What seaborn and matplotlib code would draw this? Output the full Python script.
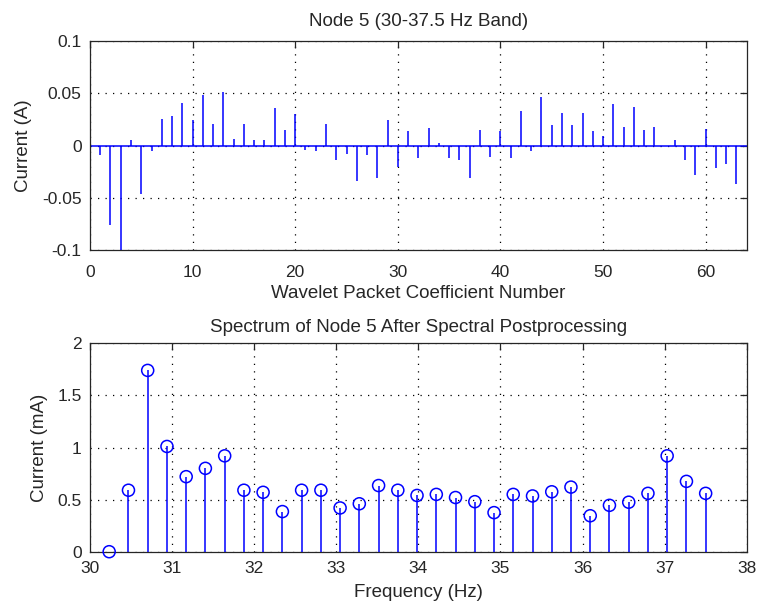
import numpy as np
import matplotlib
matplotlib.use("Agg")
import matplotlib.pyplot as plt
import seaborn as sns

# top panel: wavelet packet coefficients of node 5 (A)
coef_num = list(range(1, 64))
coef_vals = [-0.009, -0.076, -0.100, 0.005, -0.046, -0.005, 0.025, 0.028, 0.041, 0.024,
             0.048, 0.021, 0.051, 0.006, 0.021, 0.005, 0.005, 0.036, 0.015, 0.030,
             -0.004, -0.005, 0.021, -0.014, -0.008, -0.034, -0.009, -0.031, 0.024, -0.021,
             0.014, -0.012, 0.017, 0.002, -0.012, -0.014, -0.031, 0.015, -0.011, 0.014,
             -0.012, 0.033, -0.005, 0.046, 0.020, 0.031, 0.020, 0.031, 0.014, 0.009,
             0.040, 0.018, 0.037, 0.015, 0.018, 0.000, 0.005, -0.014, -0.028, 0.016,
             -0.022, -0.018, -0.037]

# bottom panel: spectrum after postprocessing (mA)
freq_hz = [30.234, 30.469, 30.703, 30.938, 31.172, 31.406, 31.641, 31.875,
           32.109, 32.344, 32.578, 32.813, 33.047, 33.281, 33.516, 33.750,
           33.984, 34.219, 34.453, 34.688, 34.922, 35.156, 35.391, 35.625,
           35.859, 36.094, 36.328, 36.563, 36.797, 37.031, 37.266, 37.500]
spec_ma = [0.00, 0.59, 1.74, 1.01, 0.72, 0.80, 0.92, 0.59,
           0.57, 0.385, 0.59, 0.59, 0.42, 0.46, 0.635, 0.59,
           0.54, 0.55, 0.52, 0.48, 0.375, 0.55, 0.535, 0.575,
           0.62, 0.345, 0.445, 0.475, 0.56, 0.92, 0.675, 0.56]

top_xticks = [0, 10, 20, 30, 40, 50, 60]
top_yticks = [-0.1, -0.05, 0, 0.05, 0.1]
top_yticklabels = ["-0.1", "-0.05", "0", "0.05", "0.1"]
bot_xticks = [30, 31, 32, 33, 34, 35, 36, 37, 38]
bot_yticks = [0, 0.5, 1, 1.5, 2]
bot_yticklabels = ["0", "0.5", "1", "1.5", "2"]

sns.set_theme(style="white")
plt.rcParams["font.family"] = ["Liberation Sans", "DejaVu Sans"]
plt.rcParams["font.size"] = 12.5

STEM = (0, 0, 1)
INK = "#262626"
LABEL_FS = 13.5

fig = plt.figure(figsize=(7.58, 6.06), dpi=100)
ax1 = fig.add_axes([0.1187, 0.5875, 0.8664, 0.3448])
ax2 = fig.add_axes([0.1187, 0.0896, 0.8664, 0.3439])


def matlab_axes(ax, xpad):
    for sp in ax.spines.values():
        sp.set_color(INK)
        sp.set_linewidth(0.9)
    ax.tick_params(direction="in", length=5, width=0.9, top=True, right=True,
                   colors=INK, labelcolor=INK, labelsize=12.5)
    ax.tick_params(axis="y", pad=6)
    ax.tick_params(axis="x", pad=xpad)
    ax.grid(True, color="black", linestyle=(0, (1, 5)), linewidth=0.9)
    ax.set_axisbelow(True)


# --- top: stem without markers
matlab_axes(ax1, xpad=10.5)
ax1.axhline(0, color=STEM, lw=1.1, zorder=2)
ax1.vlines(coef_num, 0, coef_vals, colors=STEM, lw=1.1, zorder=3)
ax1.set_xlim(0, 64)
ax1.set_ylim(-0.1, 0.1)
ax1.set_xticks(top_xticks)
ax1.set_yticks(top_yticks)
ax1.set_yticklabels(top_yticklabels)
ax1.set_title("Node 5 (30-37.5 Hz Band)", fontsize=LABEL_FS, pad=11, color=INK)
ax1.set_xlabel("Wavelet Packet Coefficient Number", fontsize=LABEL_FS, labelpad=4, color=INK)
ax1.set_ylabel("Current (A)", fontsize=LABEL_FS, labelpad=7, color=INK)

# --- bottom: stem with open circles
matlab_axes(ax2, xpad=6.5)
ax2.vlines(freq_hz, 0, spec_ma, colors=STEM, lw=1.1, zorder=3)
sns.scatterplot(x=freq_hz, y=spec_ma, ax=ax2, marker="o", s=75,
                facecolors="none", edgecolor=STEM, linewidth=1.1,
                zorder=4, clip_on=False)
ax2.set_xlim(30, 38)
ax2.set_ylim(0, 2)
ax2.set_xticks(bot_xticks)
ax2.set_yticks(bot_yticks)
ax2.set_yticklabels(bot_yticklabels)
ax2.set_title("Spectrum of Node 5 After Spectral Postprocessing", fontsize=LABEL_FS,
              pad=8, color=INK)
ax2.set_xlabel("Frequency (Hz)", fontsize=LABEL_FS, labelpad=6, color=INK)
ax2.set_ylabel("Current (mA)", fontsize=LABEL_FS, labelpad=7, color=INK)

fig.savefig("out.png", dpi=100, facecolor="white")
